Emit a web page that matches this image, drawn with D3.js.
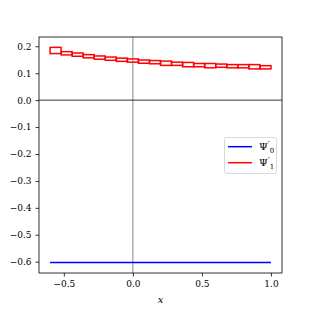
<!DOCTYPE html>
<html>
<head>
<meta charset="utf-8">
<script src="https://cdn.jsdelivr.net/npm/d3@7"></script>
<style>
  body { margin: 0; background: #fff; }
  text { font-family: "DejaVu Serif", "Liberation Serif", serif; }
</style>
</head>
<body>
<svg id="chart" width="313" height="313"></svg>
<script>
// x grid for the red segments
var segStart = [-0.6, -0.52, -0.44, -0.36, -0.28, -0.2, -0.12, -0.04, 0.04, 0.12,
                0.2, 0.28, 0.36, 0.44, 0.52, 0.6, 0.68, 0.76, 0.84, 0.92];
var segEnd = [-0.52, -0.44, -0.36, -0.28, -0.2, -0.12, -0.04, 0.04, 0.12, 0.2,
              0.28, 0.36, 0.44, 0.52, 0.6, 0.68, 0.76, 0.84, 0.92, 1.0];
// Psi'_1 band (lower / upper)
var psi1Low = [0.173, 0.168, 0.163, 0.157, 0.152, 0.148, 0.144, 0.141, 0.137, 0.135,
               0.129, 0.129, 0.124, 0.124, 0.120, 0.122, 0.120, 0.120, 0.116, 0.116];
var psi1High = [0.196, 0.180, 0.175, 0.169, 0.164, 0.160, 0.156, 0.153, 0.149, 0.147,
                0.145, 0.141, 0.140, 0.136, 0.136, 0.134, 0.132, 0.132, 0.132, 0.128];
// Psi'_0 line
var psi0X = [-0.6, 1.0];
var psi0Y = [-0.603, -0.603];

var xTicks = [-0.5, 0.0, 0.5, 1.0];
var yTicks = [-0.6, -0.5, -0.4, -0.3, -0.2, -0.1, 0.0, 0.1, 0.2];

var svg = d3.select('#chart');
var mLeft = 39, mRight = 282, mTop = 37, mBottom = 273;

var x = d3.scaleLinear().domain([-0.68, 1.08]).range([mLeft, mRight]);
var y = d3.scaleLinear().domain([-0.642, 0.2345]).range([mBottom, mTop]);

var fmt = d => d3.format('.1f')(d).replace('-', '\u2212');

// zero lines
svg.append('line').attr('x1', mLeft).attr('x2', mRight)
    .attr('y1', y(0)).attr('y2', y(0))
    .attr('stroke', '#000').attr('stroke-width', 0.8);
svg.append('line').attr('x1', x(0)).attr('x2', x(0))
    .attr('y1', mTop).attr('y2', mBottom)
    .attr('stroke', '#000').attr('stroke-width', 0.8).attr('stroke-opacity', 0.6);

// blue line
var line = d3.line().x(d => x(d[0])).y(d => y(d[1]));
svg.append('path').datum(d3.zip(psi0X, psi0Y))
    .attr('d', line).attr('fill', 'none')
    .attr('stroke', '#0000ff').attr('stroke-width', 1.5);

// red boxes
svg.selectAll('rect.seg').data(d3.range(segStart.length)).enter()
    .append('rect').attr('class', 'seg')
    .attr('x', i => x(segStart[i]))
    .attr('width', i => x(segEnd[i]) - x(segStart[i]))
    .attr('y', i => y(psi1High[i]))
    .attr('height', i => y(psi1Low[i]) - y(psi1High[i]))
    .attr('fill', 'none').attr('stroke', '#ff0000').attr('stroke-width', 1.5);

// axes
var xAxis = svg.append('g').attr('transform', 'translate(0,' + mBottom + ')')
    .call(d3.axisBottom(x).tickValues(xTicks).tickFormat(fmt).tickSize(3.5).tickPadding(4));
var yAxis = svg.append('g').attr('transform', 'translate(' + mLeft + ',0)')
    .call(d3.axisLeft(y).tickValues(yTicks).tickFormat(fmt).tickSize(3.5).tickPadding(4));
[xAxis, yAxis].forEach(function (g) {
    g.select('.domain').remove();
    g.selectAll('text').attr('font-family', '"DejaVu Serif", serif').attr('font-size', 9).attr('fill', '#000');
    g.selectAll('line').attr('stroke', '#000').attr('stroke-width', 0.8);
});

// frame
svg.append('rect').attr('x', mLeft).attr('y', mTop)
    .attr('width', mRight - mLeft).attr('height', mBottom - mTop)
    .attr('fill', 'none').attr('stroke', '#000').attr('stroke-width', 0.8);

// x label
svg.append('text').attr('x', (mLeft + mRight) / 2).attr('y', 303)
    .attr('text-anchor', 'middle').attr('font-style', 'italic')
    .attr('font-size', 10).text('x');

// legend
var lg = svg.append('g');
lg.append('rect').attr('x', 224.5).attr('y', 137.5).attr('width', 52).attr('height', 36)
    .attr('rx', 2).attr('fill', '#fff').attr('fill-opacity', 0.8)
    .attr('stroke', '#d0d0d0').attr('stroke-width', 0.8);
var items = [{c: '#0000ff', s: '0', yy: 146.7}, {c: '#ff0000', s: '1', yy: 162.7}];
items.forEach(function (d) {
    lg.append('line').attr('x1', 228).attr('x2', 252).attr('y1', d.yy).attr('y2', d.yy)
        .attr('stroke', d.c).attr('stroke-width', 1.5);
    var t = lg.append('text').attr('x', 259).attr('y', d.yy + 3.5).attr('font-size', 10);
    t.append('tspan').text('\u03A8');
    t.append('tspan').attr('font-size', 9).attr('dy', -2.5).text('\u2032');
    t.append('tspan').attr('font-size', 7).attr('dy', 5).text(d.s);
});
</script>
</body>
</html>
